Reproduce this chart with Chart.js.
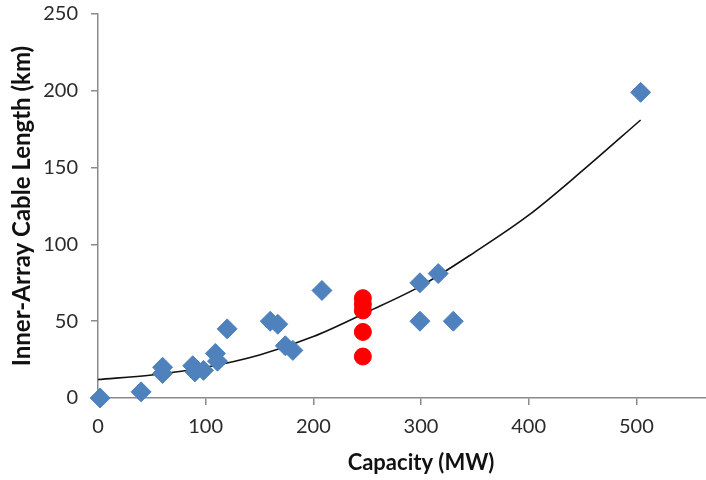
<!DOCTYPE html>
<html>
<head>
<meta charset="utf-8">
<script src="https://cdn.jsdelivr.net/npm/chart.js@4"></script>
<style>
  html, body { margin: 0; padding: 0; background: #fff; overflow: hidden; }
  #wrap { width: 762px; height: 480px; }
</style>
</head>
<body>
<div id="wrap"><canvas id="myChart" width="762" height="480"></canvas></div>
<script>
// observed wind farms (diamonds)
const farmCapacity = [2, 40, 60, 60, 88, 90, 98, 109, 111, 120, 160, 167, 174, 181, 208, 299, 316, 299, 330, 504];
const farmCable    = [0, 4, 20, 16, 21, 17, 18, 29, 24, 45, 50, 48, 34, 31, 70, 75, 81, 50, 50, 199];

// red points
const designCapacity = [246, 246, 246, 246, 246];
const designCable    = [65, 61, 57, 43, 27];

// trend line
const trendCapacity = [0, 50, 100, 150, 200, 250, 300, 350, 400, 450, 504];
const trendCable    = [12, 15, 20, 28, 40, 56, 73, 95, 119, 148, 181];

const xTicks = [0, 100, 200, 300, 400, 500, 600];
const yTicks = [0, 50, 100, 150, 200, 250];

function pts(xs, ys) {
    return xs.map(function(x, i){ return {x: x, y: ys[i]}; });
}

const data = {
    datasets: [{
        label: 'Trend',
        type: 'line',
        data: pts(trendCapacity, trendCable),
        borderColor: '#111',
        borderWidth: 1.6,
        pointRadius: 0,
        cubicInterpolationMode: 'monotone',
        fill: false,
        order: 3
    }, {
        label: 'Wind farms',
        data: pts(farmCapacity, farmCable),
        backgroundColor: '#4F81BD',
        borderColor: '#4F81BD',
        pointStyle: 'rectRot',
        pointRadius: 10,
        clip: false,
        order: 2
    }, {
        label: 'Design',
        data: pts(designCapacity, designCable),
        backgroundColor: '#FF0000',
        borderColor: '#FF0000',
        pointStyle: 'circle',
        pointRadius: 8.5,
        clip: false,
        order: 1
    }]
};

const tickFont = { family: 'Lato', size: 20 };

const config = {
    type: 'scatter',
    data: data,
    options: {
        responsive: false,
        animation: false,
        layout: { padding: { top: 14, right: 18, bottom: 0, left: 0 } },
        plugins: {
            legend: { display: false },
            tooltip: { enabled: false }
        },
        scales: {
            x: {
                type: 'linear',
                min: 0,
                max: 600,
                afterBuildTicks: function(axis){ axis.ticks = xTicks.map(function(v){ return {value: v}; }); },
                afterFit: function(axis){ axis.height = 82; axis.paddingLeft = 0; axis.paddingRight = 0; },
                grid: { drawOnChartArea: false, drawTicks: true, tickLength: 7, color: '#8a8a8a', lineWidth: 1.5 },
                border: { color: '#8a8a8a', width: 1.5 },
                ticks: { font: tickFont, color: '#2b2b2b', padding: 10, maxRotation: 0 },
                title: { display: true, text: 'Capacity (MW)', font: { family: 'Lato', size: 22, weight: 'bold' }, color: '#111', padding: { top: 3 } }
            },
            y: {
                min: 0,
                max: 250,
                afterBuildTicks: function(axis){ axis.ticks = yTicks.map(function(v){ return {value: v}; }); },
                afterFit: function(axis){ axis.width = 98; axis.paddingTop = 0; axis.paddingBottom = 0; },
                grid: { drawOnChartArea: false, drawTicks: true, tickLength: 7, color: '#8a8a8a', lineWidth: 1.5 },
                border: { color: '#8a8a8a', width: 1.5 },
                ticks: { font: tickFont, color: '#2b2b2b', padding: 13 },
                title: { display: true, text: 'Inner-Array Cable Length (km)', font: { family: 'Lato', size: 24, weight: 'bold' }, color: '#111', padding: { top: 8, bottom: 4 } }
            }
        }
    }
};

const myChart = new Chart(
    document.getElementById('myChart'),
    config
);
</script>
</body>
</html>
